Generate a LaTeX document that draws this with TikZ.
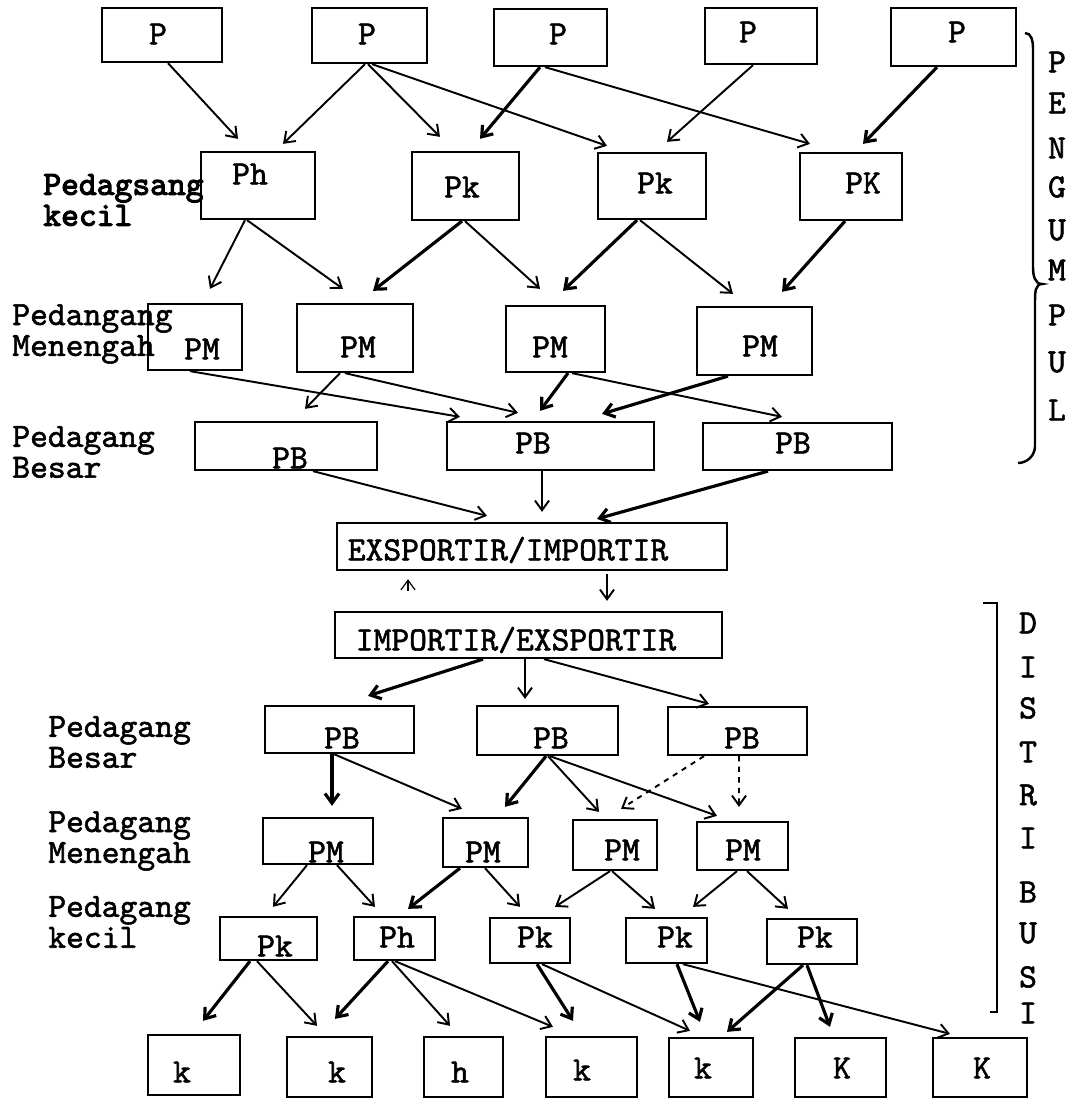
\documentclass[tikz,border=0pt]{standalone}
\usepackage{fontspec}
\newfontfamily\typew{lmmono10-regular.otf}[FakeBold=1.6]
\newfontfamily\typewb{lmmono10-regular.otf}[FakeBold=3.2]
\usetikzlibrary{arrows.meta,calc,fit}
\tikzset{
  x=0.02cm, y=-0.02cm,
  bxs/.style={draw, line width=1.3pt, inner sep=0pt},
  txt/.style={font=\fontsize{19.3}{17.6}\selectfont\typew, inner sep=0pt},
  lab/.style={txt, anchor=west, align=left},
  ar/.style={-{Straight Barb[length=5.5pt,width=8pt]}, line width=1.1pt},
  bold/.style={line width=1.8pt},
  brk/.style={line width=1.4pt},
}
\newcommand\bx[5]{\node[bxs, fit={(#2,#3) (#4,#5)}] (#1) {};}
\newcommand\arr[6][]{\draw[ar,#1] ($(#2.south)+(#3,0)$) -- ($(#4.north)+(#5,#6)$);}
\begin{document}
\begin{tikzpicture}
\useasboundingbox[fill=white] (0,0) rectangle (1076,1101);
% ---------- boxes ----------
\bx{P1}{102}{8}{222}{62}
\bx{P2}{312}{8}{427}{63}
\bx{P3}{494}{9}{607}{66}
\bx{P4}{705}{8}{817}{64}
\bx{P5}{891}{8}{1016}{66}
\bx{Pk1}{201}{152}{315}{219}
\bx{Pk2}{412}{152}{519}{220}
\bx{Pk3}{598}{153}{706}{219}
\bx{Pk4}{800}{153}{902}{220}
\bx{PM1}{148}{304}{242}{370}
\bx{PM2}{297}{304}{413}{372}
\bx{PM3}{506}{306}{605}{372}
\bx{PM4}{697}{307}{812}{375}
\bx{PB1}{195}{422}{377}{470}
\bx{PB2}{447}{422}{654}{470}
\bx{PB3}{703}{423}{892}{470}
\bx{EX}{337}{523}{727}{570}
\bx{IM}{335}{612}{722}{658}
\bx{PBd1}{265}{706}{414}{753}
\bx{PBd2}{477}{706}{618}{755}
\bx{PBd3}{668}{707}{807}{755}
\bx{PMd1}{263}{818}{373}{864}
\bx{PMd2}{443}{818}{528}{867}
\bx{PMd3}{573}{820}{657}{870}
\bx{PMd4}{697}{822}{788}{870}
\bx{Pkd1}{220}{917}{317}{960}
\bx{Pkd2}{354}{917}{435}{960}
\bx{Pkd3}{490}{918}{570}{963}
\bx{Pkd4}{626}{918}{707}{963}
\bx{Pkd5}{767}{919}{857}{964}
\bx{K1}{148}{1035}{240}{1095}
\bx{K2}{287}{1037}{372}{1097}
\bx{K3}{424}{1037}{503}{1097}
\bx{K4}{546}{1037}{637}{1097}
\bx{K5}{669}{1038}{753}{1097}
\bx{K6}{795}{1038}{886}{1097}
\bx{K7}{933}{1038}{1027}{1097}
% ---------- box texts ----------
\node[txt] (P1t) at (158,34) {P};
\node[txt] (P2t) at (367,34) {P};
\node[txt] (P3t) at (558,34) {P};
\node[txt] (P4t) at (748,32) {P};
\node[txt] (P5t) at (957,32) {P};
\node[txt] (Pk1t) at (250,174) {Ph};
\node[txt] (Pk2t) at (462,187) {Pk};
\node[txt] (Pk3t) at (655,183) {Pk};
\node[txt] (Pk4t) at (863,183) {PK};
\node[txt] (PM1t) at (202,349) {PM};
\node[txt] (PM2t) at (358,347) {PM};
\node[txt] (PM3t) at (550,347) {PM};
\node[txt] (PM4t) at (760,346) {PM};
\node[txt] (PB1t) at (290,458) {PB};
\node[txt] (PB2t) at (533,443) {PB};
\node[txt] (PB3t) at (793,443) {PB};
\node[txt] (EXt) at (508,550) {EXSPORTIR/IMPORTIR};
\node[txt] (IMt) at (516,640) {IMPORTIR/EXSPORTIR};
\node[txt] (PBd1t) at (342,738) {PB};
\node[txt] (PBd2t) at (551,738) {PB};
\node[txt] (PBd3t) at (742,738) {PB};
\node[txt] (PMd1t) at (326,852) {PM};
\node[txt] (PMd2t) at (483,852) {PM};
\node[txt] (PMd3t) at (622,850) {PM};
\node[txt] (PMd4t) at (743,850) {PM};
\node[txt] (Pkd1t) at (275,946) {Pk};
\node[txt] (Pkd2t) at (397,937) {Ph};
\node[txt] (Pkd3t) at (535,937) {Pk};
\node[txt] (Pkd4t) at (675,937) {Pk};
\node[txt] (Pkd5t) at (815,937) {Pk};
\node[txt] (K1t) at (182,1072) {k};
\node[txt] (K2t) at (337,1072) {k};
\node[txt] (K3t) at (460,1072) {h};
\node[txt] (K4t) at (582,1070) {k};
\node[txt] (K5t) at (703,1068) {k};
\node[txt] (K6t) at (842,1068) {K};
\node[txt] (K7t) at (982,1068) {K};
% ---------- side labels ----------
\node[lab, font=\fontsize{19.3}{17.6}\selectfont\typewb] (L1) at (43,200) {Pedagsang\\kecil};
\node[lab] (L2) at (12,334) {Pedangang\\Menengah};
\node[lab] (L3) at (12,452) {Pedagang\\Besar};
\node[lab] (L4) at (48,742) {Pedagang\\Besar};
\node[lab] (L5) at (48,841) {Pedagang\\Menengah};
\node[lab] (L6) at (48,922) {Pedagang\\kecil};
% ---------- P -> Pk ----------
\arr{P1}{6}{Pk1}{-20}{-12}
\arr{P2}{-4.5}{Pk1}{25}{-7}
\arr{P2}{-1.5}{Pk2}{-25.5}{-14}
\arr{P2}{2.5}{Pk3}{-45}{-6}
\arr[bold]{P3}{-10.5}{Pk2}{14.5}{-12}
\arr{P3}{-5.5}{Pk4}{-41}{-8}
\arr{P4}{-8}{Pk3}{15}{-10}
\arr[bold]{P5}{-16.5}{Pk4}{12}{-8}
% ---------- Pk -> PM ----------
\arr{Pk1}{-13}{PM1}{15}{-14}
\arr{Pk1}{-11}{PM2}{-12}{-14}
\arr[bold]{Pk2}{-3.5}{PM2}{18}{-12}
\arr{Pk2}{-0.5}{PM3}{-15.5}{-16}
\arr[bold]{Pk3}{-15}{PM3}{7.5}{-14}
\arr{Pk3}{-12}{PM4}{-21.5}{-12}
\arr[bold]{Pk4}{-6}{PM4}{27.5}{-14}
% ---------- PM -> PB ----------
\arr{PM1}{-5}{PB2}{-90.5}{-4}
\arr{PM2}{-15}{PB1}{19}{-12}
\arr{PM2}{-10}{PB2}{-32.5}{-8}
\arr[bold]{PM3}{12.5}{PB2}{-10.5}{-10}
\arr{PM3}{16.5}{PB3}{-15.5}{-5}
\arr[bold]{PM4}{-26.5}{PB2}{51.5}{-7}
% ---------- PB -> EX ----------
\arr{PB1}{27}{EX}{-45}{-6}
\arr{PB2}{-8.5}{EX}{10}{-10}
\arr[bold]{PB3}{-29.5}{EX}{65}{-3}
% ---------- EX <-> IM ----------
\draw[ar] ($(EX.south)+(75,3)$) -- ($(IM.north)+(78.5,-10)$);
\draw[ar, line width=0.7pt] ($(IM.north)+(-120.5,-20)$) -- ($(EX.south)+(-124,8)$);
% ---------- IM -> PB ----------
\arr[bold]{IM}{-45.5}{PBd1}{28.5}{-9}
\arr{IM}{-3.5}{PBd2}{-22.5}{-6}
\arr{IM}{15.5}{PBd3}{-28.5}{-2}
% ---------- PB -> PM ----------
\arr[bold]{PBd1}{-7.5}{PMd1}{14}{-11}
\arr{PBd1}{-5.5}{PMd2}{-23.5}{-8}
\arr[bold]{PBd2}{-1.5}{PMd2}{19.5}{-10}
\arr{PBd2}{0.5}{PMd3}{-16}{-7}
\arr{PBd2}{2.5}{PMd4}{-25.5}{-5}
\arr[dashed]{PBd3}{-33.5}{PMd3}{6}{-10}
\arr[dashed]{PBd3}{1.5}{PMd4}{-3.5}{-14}
% ---------- PM -> Pk ----------
\arr{PMd1}{-11}{Pkd1}{4.5}{-9}
\arr{PMd1}{19}{Pkd2}{-19.5}{-9}
\arr[bold]{PMd2}{-25.5}{Pkd2}{13.5}{-7}
\arr{PMd2}{-0.5}{Pkd3}{-10}{-10}
\arr{PMd3}{-5}{Pkd3}{25}{-10}
\arr{PMd3}{-3}{Pkd4}{-11.5}{-8}
\arr{PMd4}{-5.5}{Pkd4}{26.5}{-10}
\arr{PMd4}{4.5}{Pkd5}{-24}{-9}
% ---------- Pk -> K ----------
\arr[bold]{Pkd1}{-18.5}{K1}{9}{-13}
\arr{Pkd1}{-11.5}{K2}{-12.5}{-10}
\arr[bold]{Pkd2}{-6.5}{K2}{5.5}{-17}
\arr{Pkd2}{-2.5}{K3}{-13.5}{-10}
\arr{Pkd2}{0.5}{K4}{-38.5}{-9}
\arr[bold]{Pkd3}{7}{K4}{-18.5}{-15}
\arr{Pkd3}{12}{K5}{-21}{-6}
\arr[bold]{Pkd4}{10.5}{K5}{-11}{-15}
\arr{Pkd4}{16.5}{K7}{-30}{-3}
\arr[bold]{Pkd5}{-9}{K5}{16}{-5}
\arr[bold]{Pkd5}{-5}{K6}{-10.5}{-10}
% ---------- PENGUMPUL brace ----------
\draw[brk] (1025,33) to[out=0,in=90] (1033,48) -- (1033,268)
  to[out=-90,in=180] (1042,284) to[out=180,in=90] (1035,300)
  -- (1035,446) to[out=-90,in=0] (1018,463);
\foreach \c/\yy [count=\i] in {P/62,E/103,N/148,G/187,U/230,M/270,P/315,U/362,L/410}
  \node[txt] (pg\i) at (1057,\yy) {\c};
% ---------- DISTRIBUSI bracket ----------
\draw[brk] (983,603) -- (997,603) -- (997,1012) -- (990,1012);
\foreach \c/\yy [count=\i] in {D/623,I/667,S/708,T/752,R/795,I/838,B/892,U/933,S/977,I/1013}
  \node[txt] (ds\i) at (1028,\yy) {\c};
\end{tikzpicture}
\end{document}
